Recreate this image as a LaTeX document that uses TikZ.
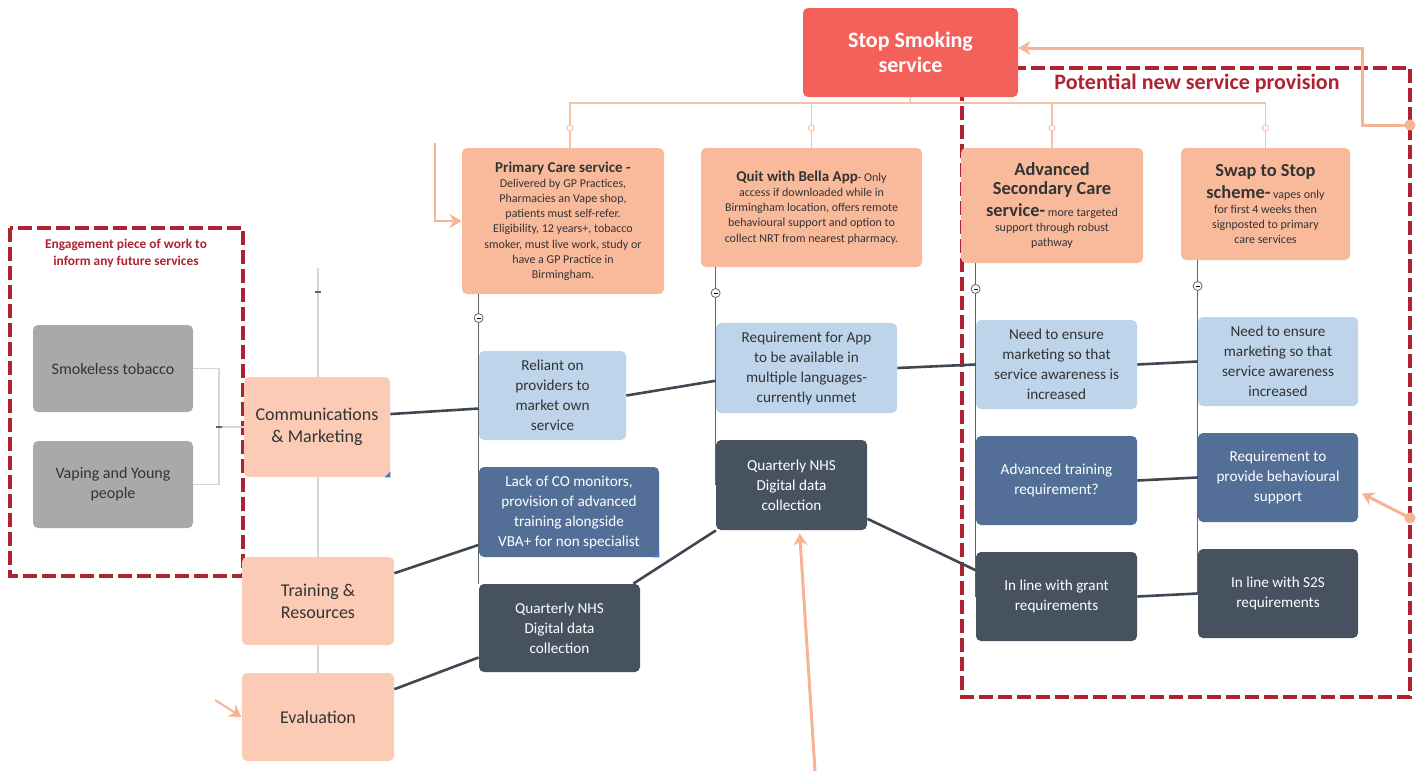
\documentclass[tikz,border=0pt]{standalone}
\usepackage{fontspec}
\setmainfont{Carlito}
\usetikzlibrary{arrows.meta,calc}

\definecolor{stopred}{HTML}{F4615A}
\definecolor{servpeach}{HTML}{F9BA9C}
\definecolor{catpeach}{HTML}{FBCBB6}
\definecolor{lightblue}{HTML}{BDD4EB}
\definecolor{midblue}{HTML}{536F98}
\definecolor{slate}{HTML}{46525F}
\definecolor{boxgrey}{HTML}{A9A9A9}
\definecolor{framered}{HTML}{AE2330}
\definecolor{arrowpeach}{HTML}{F6B492}
\definecolor{treepeach}{HTML}{F5C2A6}
\definecolor{linkgrey}{HTML}{3D4853}
\definecolor{colgrey}{HTML}{5A6570}
\definecolor{leftgrey}{HTML}{D6D6D6}
\definecolor{txtdark}{HTML}{333333}
\definecolor{cornerblue}{HTML}{3B7DD8}

\newcommand{\svchead}[1]{{\fontsize{7.5}{9}\selectfont\bfseries #1}}
\newcommand{\svcbig}[1]{{\fontsize{9.2}{11}\selectfont\bfseries #1}}

\begin{document}
\begin{tikzpicture}[x=0.5pt,y=-0.5pt,
  box/.style={rounded corners=2.5pt,align=center,inner sep=1pt,text=txtdark,
    font=\fontsize{7.6}{10}\selectfont},
  stopbox/.style={box,fill=stopred,text=white,minimum width=107.5pt,minimum height=44.5pt,
    font=\fontsize{11}{12.5}\selectfont\bfseries},
  servbox/.style={box,fill=servpeach,font=\fontsize{6}{7.6}\selectfont},
  catbox/.style={box,fill=catpeach,minimum width=76pt,minimum height=44pt,
    font=\fontsize{9}{11}\selectfont},
  greybox/.style={box,fill=boxgrey,minimum width=80pt,minimum height=43.5pt,
    font=\fontsize{8}{10}\selectfont},
  needbox/.style={box,fill=lightblue,minimum width=80.5pt,minimum height=44.5pt},
  trainbox/.style={box,fill=midblue,text=white,minimum width=80.5pt,minimum height=44.5pt},
  databox/.style={box,fill=slate,text=white,minimum width=80.5pt,minimum height=44.5pt},
  link/.style={linkgrey,line width=1.3pt},
  treeline/.style={treepeach,line width=0.8pt},
  colline/.style={colgrey,line width=0.8pt},
  peacharrow/.style={arrowpeach,line width=1.5pt,-{Stealth[length=6pt,width=7pt]}},
  redframe/.style={framered,line width=1.6pt,dash pattern=on 7pt off 2.5pt},
  fold/.style={circle,draw=colgrey,fill=white,line width=0.4pt,inner sep=0pt,minimum size=4.5pt},
  knob/.style={circle,draw=treepeach,fill=white,line width=0.5pt,inner sep=0pt,minimum size=3pt},
  dashmark/.style={fill=colgrey,inner sep=0pt,minimum width=3pt,minimum height=1pt},
]
\useasboundingbox (0,0) rectangle (1424,771);

% dashed groups
\draw[redframe] (962,68) rectangle (1410,697);
\draw[redframe] (10,228) rectangle (243,576);
\node[text=framered,font=\fontsize{11}{13}\selectfont\bfseries] (newlbl) at (1197,83) {Potential new service provision};
\node[text=framered,align=center,font=\fontsize{6.7}{8.5}\selectfont\bfseries] (englbl) at (126,253) {Engagement piece of work to\\inform any future services};

% left column spine
\draw[leftgrey,line width=0.6pt] (318,268) -- (318,673);
\node[dashmark] (lmark) at (318,292) {};

% main boxes
\node[stopbox] (stop) at (910.5,52.5) {Stop Smoking\\service};
\node[servbox,minimum width=101pt,minimum height=73pt] (prim) at (563,221)
  {\svchead{Primary Care service -}\\Delivered by GP Practices,\\Pharmacies an Vape shop,\\patients must self-refer.\\Eligibility, 12 years+, tobacco\\smoker, must live work, study or\\have a GP Practice in\\Birmingham.};
\node[servbox,minimum width=110.5pt,minimum height=59.5pt] (bella) at (811.5,207.5)
  {\svchead{Quit with Bella App}- Only\\access if downloaded while in\\Birmingham location, offers remote\\behavioural support and option to\\collect NRT from nearest pharmacy.};
\node[servbox,minimum width=91pt,minimum height=57.5pt] (adv) at (1052,205.5)
  {\svcbig{Advanced}\\[2pt]\svcbig{Secondary Care}\\[2pt]\svcbig{service-} more targeted\\support through robust\\pathway};
\node[servbox,minimum width=84.5pt,minimum height=56pt] (swap) at (1265.5,204)
  {\svcbig{Swap to Stop}\\[2pt]\svcbig{scheme-} vapes only\\for first 4 weeks then\\signposted to primary\\care services};

\node[catbox,minimum width=73pt,minimum height=50pt] (comm) at (317,427) {Communications\\\& Marketing};
\node[catbox] (train) at (318,601) {Training \&\\Resources};
\node[catbox] (eval) at (318,717) {Evaluation};

\node[greybox] (smokeless) at (113,368.5) {Smokeless tobacco};
\node[greybox] (vaping) at (113,484.5) {Vaping and Young\\people};

\node[needbox,minimum width=73.5pt] (reliant) at (552.5,395.5) {Reliant on\\providers to\\market own\\service};
\node[trainbox,minimum width=90pt,minimum height=45pt] (lackco) at (569,512) {Lack of CO monitors,\\provision of advanced\\training alongside\\VBA+ for non specialist};
\node[databox,minimum height=44pt] (qnhs1) at (559.5,628) {Quarterly NHS\\Digital data\\collection};
\node[needbox,minimum width=90.5pt,minimum height=45pt] (reqapp) at (806.5,368) {Requirement for App\\to be available in\\multiple languages-\\currently unmet};
\node[databox,minimum width=75.5pt,minimum height=45pt] (qnhs2) at (791.5,485) {Quarterly NHS\\Digital data\\collection};
\node[needbox] (need1) at (1056.5,364.5) {Need to ensure\\marketing so that\\service awareness is\\increased};
\node[trainbox] (advtrain) at (1056.5,480.5) {Advanced training\\requirement?};
\node[databox] (grant) at (1056.5,596.5) {In line with grant\\requirements};
\node[needbox,minimum width=80pt] (need2) at (1278,361.5) {Need to ensure\\marketing so that\\service awareness\\increased};
\node[trainbox,minimum width=80pt] (behav) at (1278,477.5) {Requirement to\\provide behavioural\\support};
\node[databox,minimum width=80pt] (s2s) at (1278,593.5) {In line with S2S\\requirements};

\fill[cornerblue] (comm.south east) -- ++(-6,0) -- ++(6,-6) -- cycle;
\fill[cornerblue] (lackco.south east) -- ++(-6,0) -- ++(6,-6) -- cycle;

% tree from the service
\coordinate (trunk) at (910,103);
\draw[treeline] (stop.south) -- (trunk);
\draw[treeline] (trunk) -| ($(prim.north)+(7,0)$);
\foreach \s in {bella,adv,swap}
  \draw[treeline] (trunk) -| (\s.north);
\node[knob] (k-prim) at (570,128) {};
\foreach \s in {bella,adv,swap}
  \node[knob] (k-\s) at (\s.north |- 0,128) {};

% column spines
\draw[colline] (reliant.west |- prim.south) -- (reliant.west |- qnhs1.north);
\draw[colline] (reqapp.west |- bella.south) -- (reqapp.west |- qnhs2.west);
\draw[colline] (need1.west |- adv.south) -- (need1.west |- grant.west);
\draw[colline] (need2.west |- swap.south) -- (need2.west |- s2s.west);
\node[fold] (f1) at (reliant.west |- 0,318) {\rule{2pt}{0.4pt}};
\node[fold] (f2) at (reqapp.west |- 0,293) {\rule{2pt}{0.4pt}};
\node[fold] (f3) at (need1.west |- 0,289) {\rule{2pt}{0.4pt}};
\node[fold] (f4) at (need2.west |- 0,286) {\rule{2pt}{0.4pt}};

% engagement bracket
\coordinate (brk) at (219,427);
\draw[leftgrey,line width=0.6pt] (smokeless.east) -| (brk) |- (vaping.east);
\draw[leftgrey,line width=0.6pt] (brk) -- (comm.west);
\node[dashmark] (bmark) at (brk) {};

% links
\draw[link] (comm.10) -- (reliant.190);
\draw[link] (reliant.east) -- (reqapp.188);
\draw[link] (reqapp.east) -- (need1.west);
\draw[link] (need1.east) -- (need2.west);
\draw[link] (train.20) -- (lackco.200);
\draw[link] (eval.20) -- (qnhs1.200);
\draw[link] (qnhs1.31) -- (qnhs2.211);
\draw[link] (qnhs2.-24) -- (grant.162);
\draw[link] (advtrain.east) -- (behav.west);
\draw[link] (grant.east) -- (s2s.west);

% peach arrows
\coordinate (dotA) at (1410,125);
\coordinate (dotB) at (1410,518);
\fill[arrowpeach] (dotA) circle (2.8pt);
\fill[arrowpeach] (dotB) circle (2.8pt);
\draw[peacharrow] (dotA) -- (1362,125) -- (1362,48) -- (stop.east |- 0,48);
\draw[peacharrow,shorten >=2pt] (dotB) -- (behav.-10);
\coordinate (botA) at (815,771);
\draw[peacharrow,shorten >=1.5pt] (botA) -- ($(qnhs2.south)+(8,0)$);
\coordinate (topA) at (435,143);
\draw[peacharrow,line width=1.2pt] (topA) |- (prim.west);
\coordinate (evA) at (215,700);
\draw[peacharrow,line width=1pt] (evA) -- (eval.west);
\end{tikzpicture}
\end{document}
